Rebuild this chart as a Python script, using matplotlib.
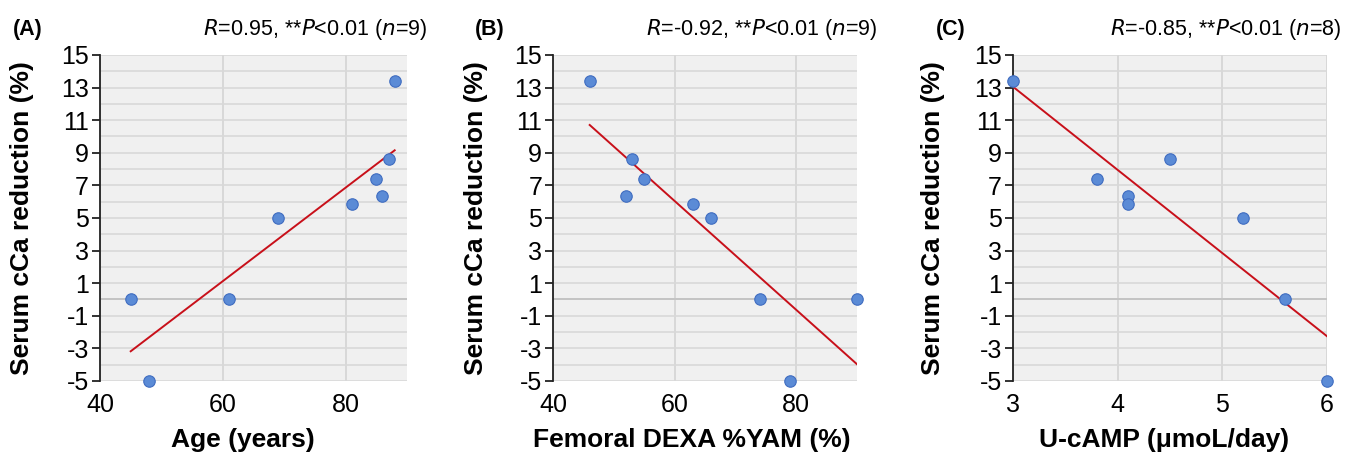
import numpy as np
import matplotlib
matplotlib.use("Agg")
import matplotlib.pyplot as plt
from matplotlib.ticker import MultipleLocator

plt.rcParams["font.family"] = ["Liberation Sans", "DejaVu Sans"]
plt.rcParams["axes.unicode_minus"] = False

# serum cCa reduction (%) per patient
y_age = [0, -5, 0, 5.0, 5.85, 7.4, 6.33, 8.64, 13.4]
age = [45, 48, 61, 69, 81, 85, 86, 87, 88]

y_dexa = [13.4, 8.64, 7.4, 6.33, 5.85, 5.0, 0, -5, 0]
dexa = [46, 53, 55, 52, 63, 66, 74, 79, 90]

y_camp = [13.4, 7.4, 6.33, 5.85, 8.64, 5.0, 0, -5]
camp = [3.0, 3.8, 4.1, 4.1, 4.5, 5.2, 5.6, 6.0]

tags = ["(A)", "(B)", "(C)"]
r_vals = ["0.95", "-0.92", "-0.85"]
n_vals = [9, 9, 8]
xlabels = ["Age (years)", "Femoral DEXA %YAM (%)", "U-cAMP (μmoL/day)"]
xdata = [age, dexa, camp]
ydata = [y_age, y_dexa, y_camp]
xlims = [(40, 90), (40, 90), (3, 6)]
xsteps = [20, 20, 1]

fig = plt.figure(figsize=(13.57, 4.54), dpi=100)
W, H = 1357.0, 454.0
axes_pos = [
    [0.0737, 0.161, 0.2262, 0.718],
    [0.4077, 0.161, 0.2238, 0.718],
    [0.7465, 0.161, 0.2314, 0.718],
]
tag_x = [13, 475, 936]
stat_x = [427, 878, 1342]
xlab_x = [0.464, 0.457, 0.481]

for i in range(3):
    xs, ys = xdata[i], ydata[i]
    ax = fig.add_axes(axes_pos[i])
    ax.set_facecolor("#f0f0f0")
    ax.set_xlim(*xlims[i])
    ax.set_ylim(-5, 15)
    ax.set_yticks(np.arange(-5, 16, 2))
    ax.yaxis.set_minor_locator(MultipleLocator(1))
    ax.xaxis.set_major_locator(MultipleLocator(xsteps[i]))

    # grid
    ax.grid(which="both", axis="y", color="#d9d9d9", lw=1.2, zorder=0)
    ax.grid(which="major", axis="x", color="#d4d4d4", lw=1.2, zorder=0)
    ax.axhline(0, color="#c4c4c4", lw=1.4, zorder=1)
    ax.set_axisbelow(True)

    for s in ["top", "right", "bottom"]:
        ax.spines[s].set_visible(False)
    ax.spines["left"].set_color("#222222")
    ax.spines["left"].set_linewidth(1.3)
    ax.tick_params(axis="y", which="major", direction="out", length=6, width=1.3,
                   color="#222222", labelsize=18, pad=2)
    ax.tick_params(axis="y", which="minor", length=0)
    ax.tick_params(axis="x", length=0, labelsize=18, pad=9)

    # trend line over data range
    k, b = np.polyfit(xs, ys, 1)
    xx = np.array([min(xs), max(xs)])
    ax.plot(xx, k * xx + b, color="#c8101a", lw=1.4, zorder=3)

    ax.scatter(xs, ys, s=68, color="#5b8bd6", edgecolors="#3f6cc0", linewidths=0.8,
               zorder=4, clip_on=False)

    ax.set_xlabel(xlabels[i], fontsize=19, fontweight="bold")
    ax.xaxis.label.set_verticalalignment("center")
    ax.xaxis.set_label_coords(xlab_x[i], -0.181)
    ax.set_ylabel("Serum cCa reduction (%)", fontsize=19, fontweight="bold")
    ax.yaxis.label.set_verticalalignment("center")
    ax.yaxis.set_label_coords(-0.255, 0.5)

    # panel tag and stats text
    fig.text(tag_x[i] / W, 1 - 29 / H, tags[i], fontsize=15.5,
             fontweight="bold", ha="left", va="center")
    stats = r"$\mathit{R}$=" + r_vals[i] + r", **$\mathit{P}$<0.01 ($\mathit{n}$=" + \
        str(n_vals[i]) + ")"
    fig.text(stat_x[i] / W, 1 - 29 / H, stats, fontsize=15.5, ha="right", va="center")

fig.savefig("out.png", dpi=100)
